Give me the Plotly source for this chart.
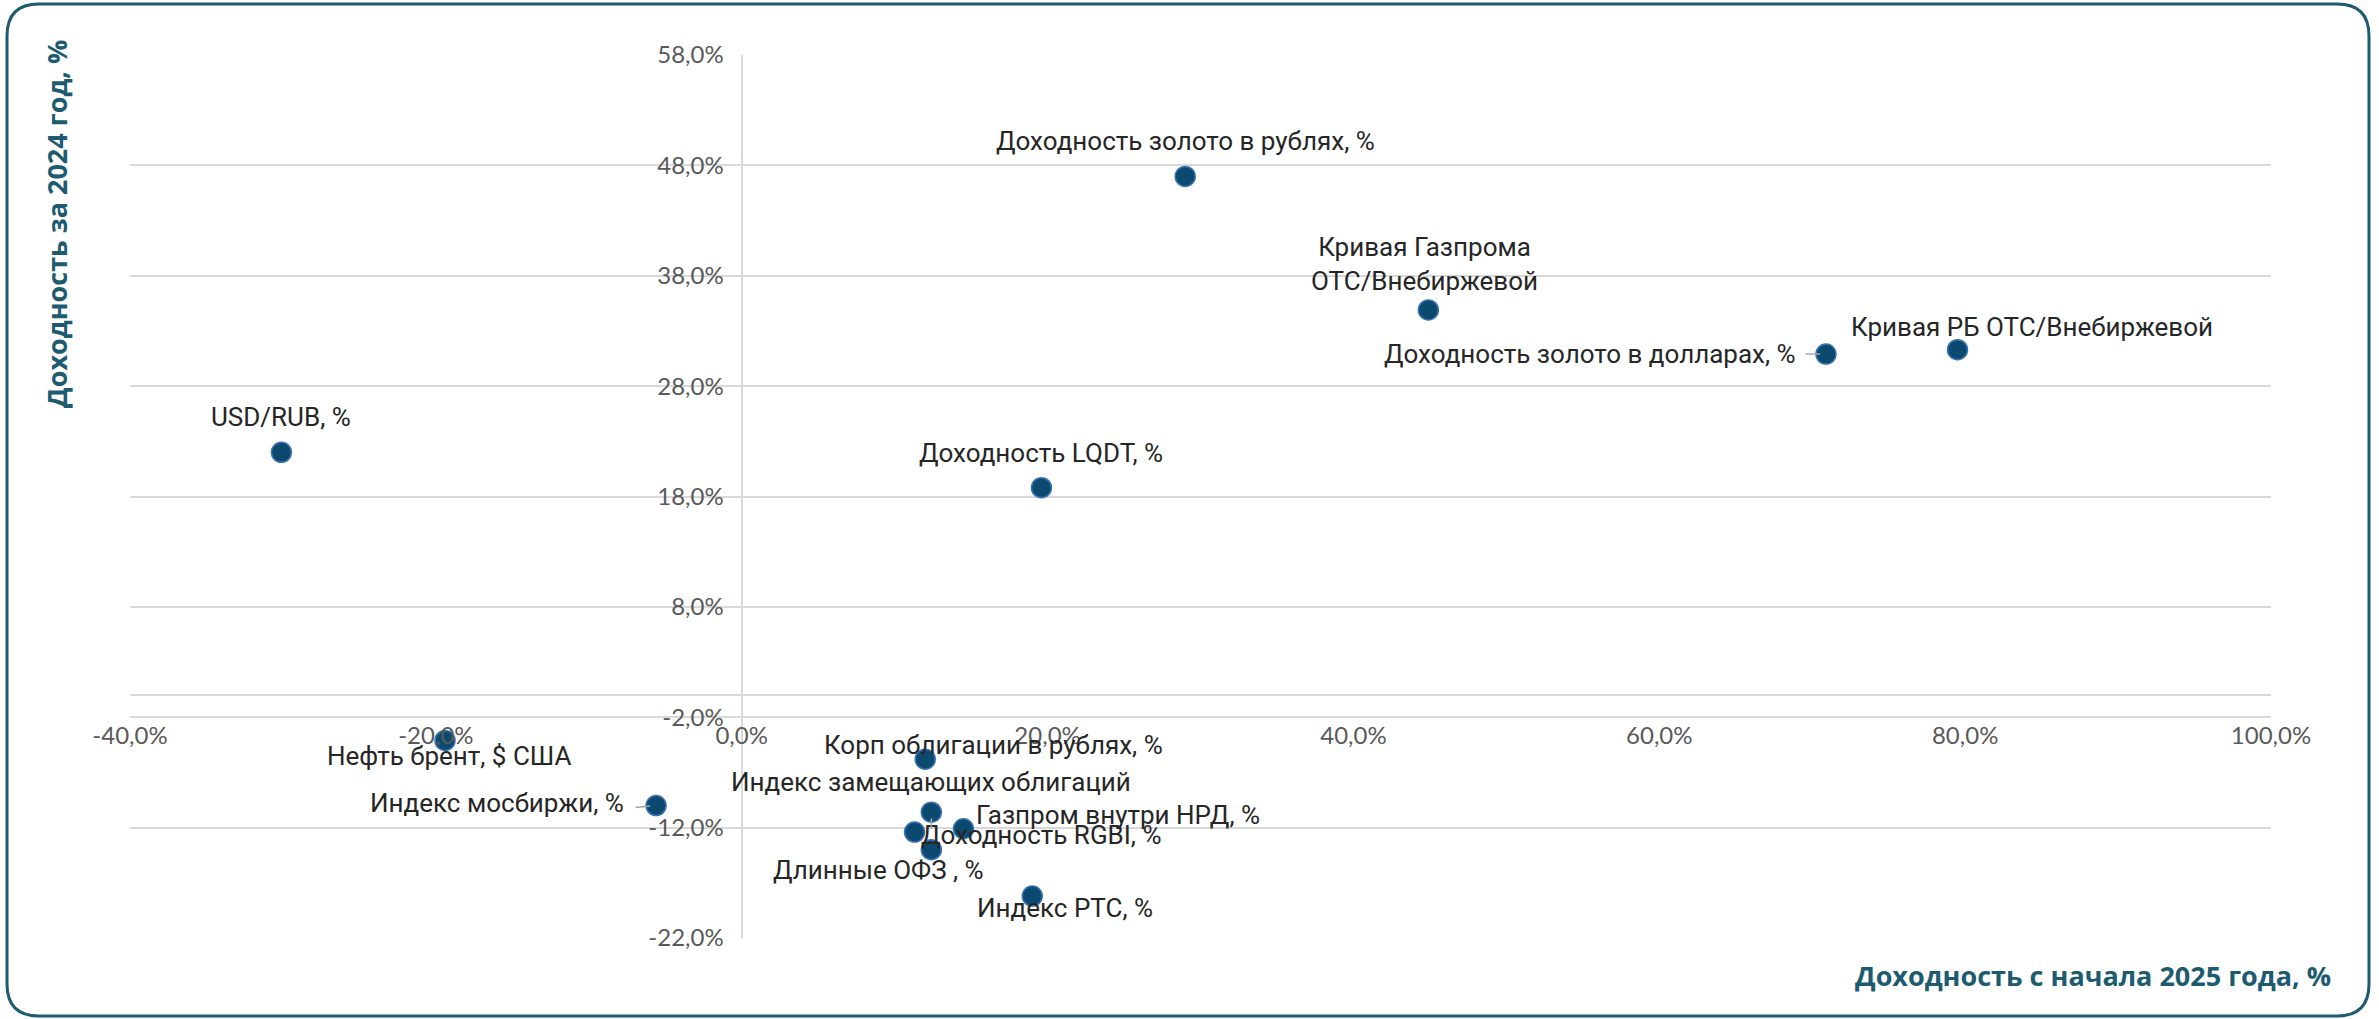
import plotly.graph_objects as go

# Доходности активов: с начала 2025 года (X) и за 2024 год (Y), %
names = [
    "USD/RUB, %",
    "Доходность золото в рублях, %",
    "Кривая Газпрома<br>ОТС/Внебиржевой",
    "Доходность золото в долларах, %",
    "Кривая РБ ОТС/Внебиржевой",
    "Доходность LQDT, %",
    "Нефть брент, $ США",
    "Индекс мосбиржи, %",
    "Корп облигации в рублях, %",
    "Индекс замещающих облигаций",
    "Газпром внутри НРД, %",
    "Доходность RGBI, %",
    "Длинные ОФЗ , %",
    "Индекс РТС, %",
]
ytd_2025 = [-30.1, 29.0, 44.9, 70.9, 79.5, 19.6, -19.4, -5.6, 12.0, 12.4, 14.5, 11.3, 12.4, 19.0]
ret_2024 = [22.0, 47.0, 34.9, 30.9, 31.3, 18.8, -4.1, -10.0, -5.8, -10.6, -12.1, -12.4, -14.0, -18.2]

x_ticks = [-40, -20, 0, 20, 40, 60, 80, 100]
x_tick_text = ["-40,0%", "-20,0%", "0,0%", "20,0%", "40,0%", "60,0%", "80,0%", "100,0%"]
y_ticks = [58, 48, 38, 28, 18, 8, -2, -12, -22]
y_tick_text = ["58,0%", "48,0%", "38,0%", "28,0%", "18,0%", "8,0%", "-2,0%", "-12,0%", "-22,0%"]

x_title = "Доходность с начала 2025 года, %"
y_title = "Доходность за 2024 год, %"

# label placement per point: (xanchor, xshift, yshift) in px
label_place = [
    ("center", 0, 35),
    ("center", 0, 35),
    ("center", -4, 46),
    ("right", -28, 0),
    ("center", 74, 23),
    ("center", 0, 35),
    ("center", 4, -16),
    ("right", -30, 3),
    ("center", 68, 14),
    ("center", 0, 30),
    ("left", 11, 14),
    ("left", 4, -3),
    ("center", -53, -20),
    ("center", 33, -12),
]
# short leader lines: index -> (ax, ay) in px
leaders = {3: (-22, 0), 7: (-22, -2), 9: (0, -18)}

TEAL = "#1d5b70"
GRID = "#d9d9d9"

X_MIN, X_MAX = -40, 100
Y_MIN, Y_MAX = -22, 58

fig = go.Figure()
fig.add_trace(go.Scatter(
    x=ytd_2025, y=ret_2024, mode="markers",
    marker=dict(size=20, color="#0b4a6e", line=dict(width=1.5, color="#3a72b8")),
    hoverinfo="skip", showlegend=False, cliponaxis=False,
))

annotations = []
for i, (n, xv, yv) in enumerate(zip(names, ytd_2025, ret_2024)):
    anchor, xs, ys = label_place[i]
    annotations.append(dict(
        x=xv, y=yv, xref="x", yref="y", text=n, showarrow=False,
        xanchor=anchor, yanchor="middle", xshift=xs, yshift=ys, align="center",
        font=dict(family="Roboto", size=26, color="#262626"),
    ))
for i, (ax, ay) in leaders.items():
    annotations.append(dict(
        x=ytd_2025[i], y=ret_2024[i], xref="x", yref="y", text="",
        showarrow=True, arrowhead=0, arrowwidth=1.5, arrowcolor="#a6a6a6",
        ax=ax, ay=-ay, standoff=6,
    ))

# axis titles
annotations.append(dict(
    x=-0.0346, y=0.8086, xref="paper", yref="paper", text=y_title, textangle=-90,
    showarrow=False, xanchor="center", yanchor="middle",
    font=dict(family="Open Sans", size=27, color=TEAL, weight="bold"),
))
annotations.append(dict(
    x=1.029, y=-0.042, xref="paper", yref="paper", text=x_title,
    showarrow=False, xanchor="right", yanchor="middle",
    font=dict(family="Open Sans", size=27, color=TEAL, weight="bold"),
))

# plot area in pixels
L, R, T, B = 130, 108, 55, 81
W, H = 2379 - L - R, 1019 - T - B


def px(xp):
    return (xp - L) / W


def py(yp):
    return (1019 - B - yp) / H


# rounded frame around the whole chart
fx0, fx1, fy0, fy1, rad = 7, 2369, 4, 1016, 32
rx, ry = rad / W, rad / H
a, b, c, d = px(fx0), px(fx1), py(fy1), py(fy0)
frame_path = (
    f"M {a + rx},{d} L {b - rx},{d} Q {b},{d} {b},{d - ry} "
    f"L {b},{c + ry} Q {b},{c} {b - rx},{c} "
    f"L {a + rx},{c} Q {a},{c} {a},{c + ry} "
    f"L {a},{d - ry} Q {a},{d} {a + rx},{d} Z"
)

fig.update_layout(
    width=2379, height=1019,
    margin=dict(l=L, r=R, t=T, b=B),
    paper_bgcolor="white", plot_bgcolor="white",
    annotations=annotations,
    shapes=[dict(type="path", xref="paper", yref="paper", path=frame_path,
                 line=dict(color=TEAL, width=3), layer="above")],
    xaxis=dict(
        range=[X_MIN, X_MAX], tickvals=x_ticks, ticktext=x_tick_text,
        showgrid=False, zeroline=True, zerolinecolor=GRID, zerolinewidth=2,
        showline=False, anchor="free",
        position=(-2 - Y_MIN) / (Y_MAX - Y_MIN), side="bottom",
        ticks="", ticklabelstandoff=2,
        tickfont=dict(family="Lato", size=24, color="#595959"),
    ),
    yaxis=dict(
        range=[Y_MIN, Y_MAX], tickvals=y_ticks, ticktext=y_tick_text,
        showgrid=True, gridcolor=GRID, gridwidth=2,
        zeroline=True, zerolinecolor=GRID, zerolinewidth=2,
        showline=False, anchor="free",
        position=(0 - X_MIN) / (X_MAX - X_MIN), side="left",
        ticks="", ticklabelstandoff=18,
        tickfont=dict(family="Lato", size=24, color="#595959"),
    ),
)

fig.write_html("out.html")
